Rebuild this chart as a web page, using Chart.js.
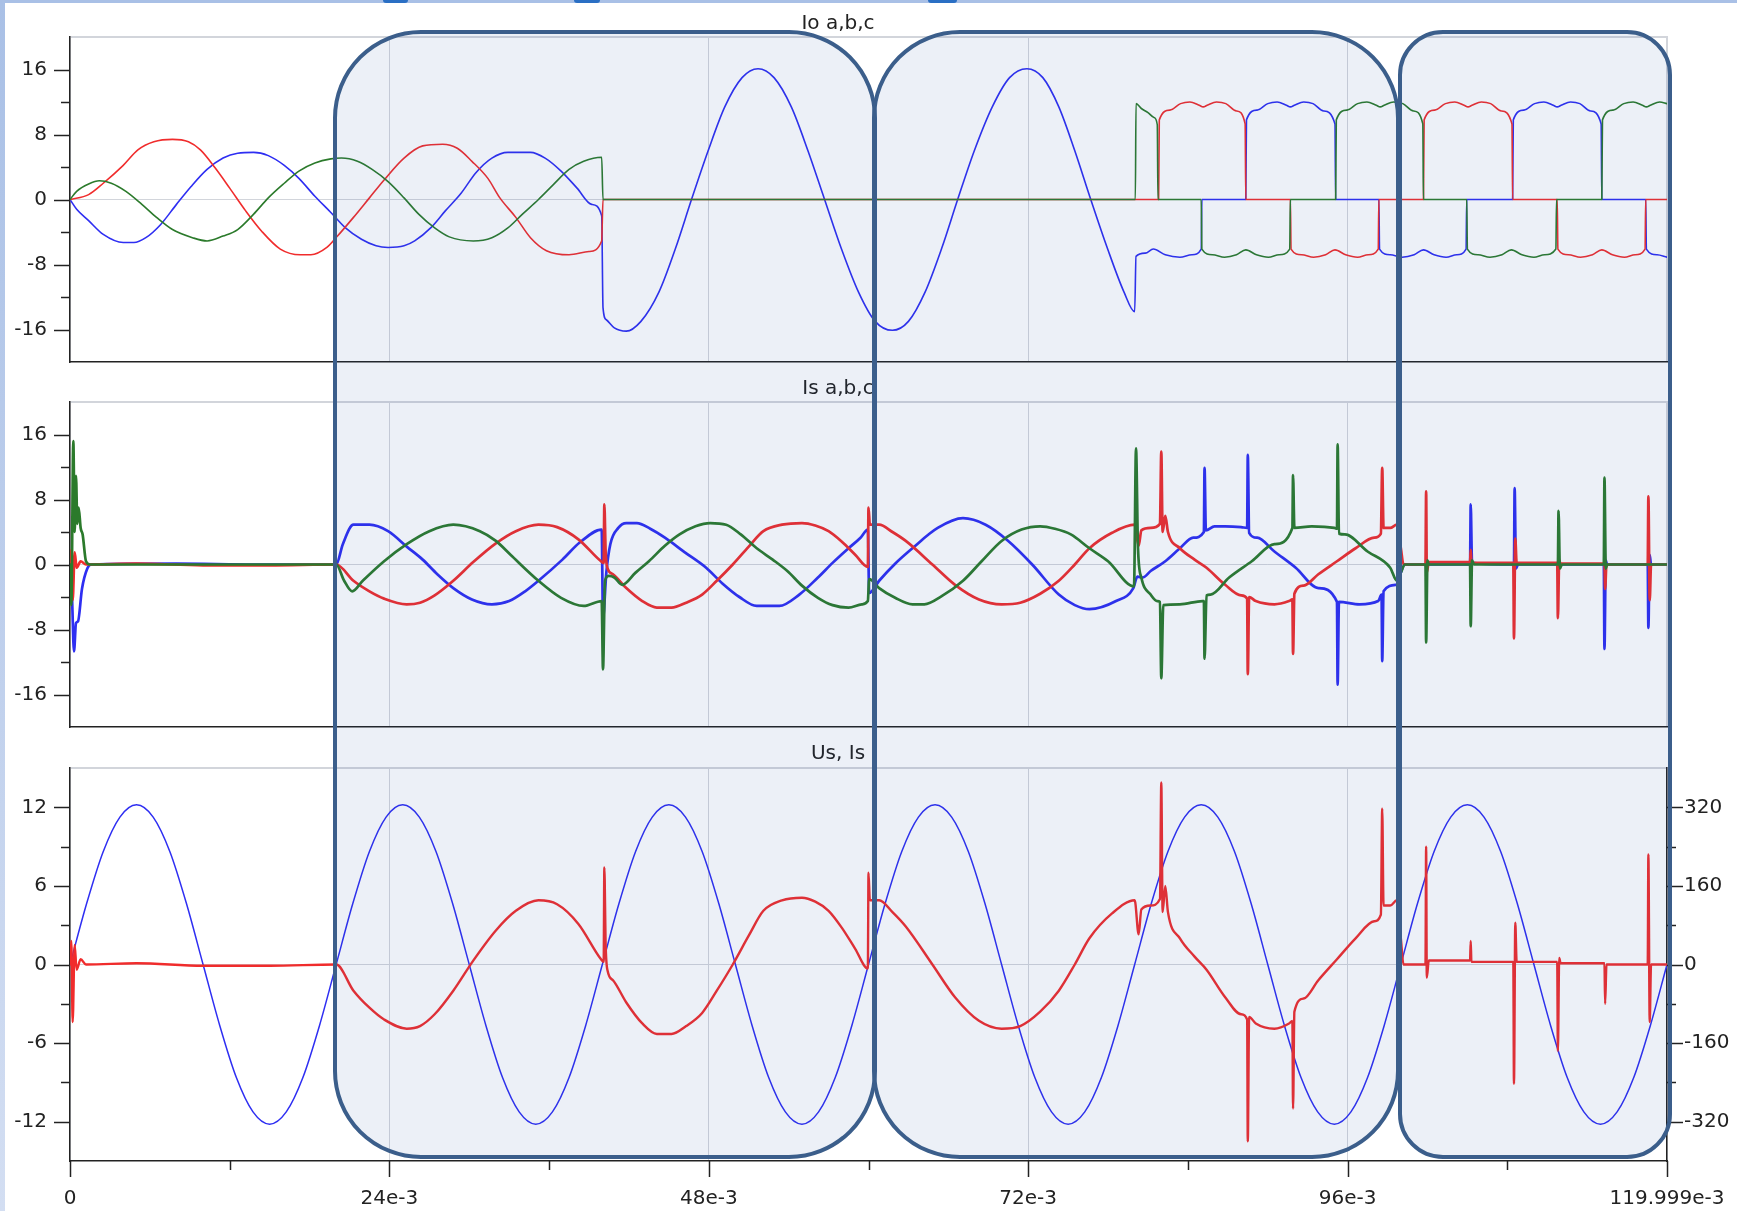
<!DOCTYPE html>
<html>
<head>
<meta charset="utf-8">
<title>Io / Is / Us</title>
<script src="https://cdn.jsdelivr.net/npm/chart.js@4.4.1/dist/chart.umd.min.js"></script>
<style>
  html, body { margin: 0; padding: 0; background: #fff; }
  #page { position: relative; width: 1737px; height: 1211px; overflow: hidden; background: #fff; }
  #page canvas { position: absolute; left: 0; }
  .hl { position: absolute; box-sizing: border-box; border: 4.5px solid #3b5e8b; background: rgba(40, 90, 170, 0.09); }
  .edge-top { position: absolute; left: 0; top: 0; width: 1737px; height: 3px; background: #a9c0e6; }
  .edge-left { position: absolute; left: 0; top: 0; width: 5px; height: 1211px; background: linear-gradient(#a9c0e6, #d3def2); }
  .tab { position: absolute; top: 0; height: 3px; background: #2a6fc4; border-radius: 0 0 3px 3px; }
</style>
</head>
<body>
<div id="page">
  <canvas id="io" width="1737" height="365" style="top:0"></canvas>
  <canvas id="is" width="1737" height="365" style="top:365px"></canvas>
  <canvas id="us" width="1737" height="481" style="top:730px"></canvas>

  <div class="hl" style="left:333px; top:30px; width:544px; height:1129px; border-radius:88px"></div>
  <div class="hl" style="left:872px; top:30px; width:528px; height:1129px; border-radius:88px"></div>
  <div class="hl" style="left:1398px; top:30px; width:274px; height:1129px; border-radius:45px"></div>

  <div class="edge-top"></div>
  <div class="tab" style="left:383px; width:25px"></div>
  <div class="tab" style="left:574px; width:26px"></div>
  <div class="tab" style="left:928px; width:29px"></div>
  <div class="edge-left"></div>
</div>

<script>
// ---- axes (time in ms, labelled as e-3 s) ----
const timeTicks = [0, 12, 24, 36, 48, 60, 72, 84, 96, 108, 119.999];
const timeLabels = ['0', '', '24e-3', '', '48e-3', '', '72e-3', '', '96e-3', '', '119.999e-3'];
const ampTicks = [-16, -12, -8, -4, 0, 4, 8, 12, 16];
const ampLabels = ['-16', '', '-8', '', '0', '', '8', '', '16'];
const isTicks = [-12, -9, -6, -3, 0, 3, 6, 9, 12];
const isLabels = ['-12', '', '-6', '', '0', '', '6', '', '12'];
const usTicks = [-320, -240, -160, -80, 0, 80, 160, 240, 320];
const usLabels = ['-320', '', '-160', '', '0', '', '160', '', '320'];

// ---- Io a,b,c : [t ms, A] ----
const ioA = [
  [0, 0], [1.4, 0.6], [2.5, 2.0], [4.0, 4.2], [5.1, 6.1], [6.3, 7.1], [7.7, 7.4], [8.9, 7.1], [9.8, 6.1], [10.9, 3.9],
  [12.0, 1.4], [13.2, -1.4], [14.4, -3.9], [15.8, -6.1], [17.3, -6.8], [18.1, -6.8], [19.3, -5.9], [20.1, -4.5], [21.3, -2.2],
  [22.5, 0.2], [23.6, 2.4], [25.1, 5.1], [26.5, 6.6], [28.0, 6.8], [29.1, 6.3], [30.2, 4.7], [31.4, 2.6], [32.3, 0.2],
  [33.5, -2.2], [34.6, -4.7], [35.8, -6.3], [37.5, -6.8], [39.0, -6.4], [39.95, -5.1], [40.05, 0],
  [81.8, 0], [81.85, 9.8], [82.65, 11.0], [83.45, 11.8], [84.15, 12.0], [84.85, 11.6], [85.15, 11.4], [85.45, 11.6],
  [86.15, 12.0], [86.85, 11.8], [87.65, 10.9], [88.3, 9.3], [88.35, 0],
  [91.7, 0], [91.75, -6.1], [92.55, -6.8], [93.45, -7.1], [94.35, -6.8], [95.05, -6.2], [95.85, -6.8], [96.75, -7.1],
  [97.55, -6.8], [98.3, -6.1], [98.35, 0],
  [101.7, 0], [101.75, 9.8], [102.55, 11.0], [103.35, 11.8], [104.05, 12.0], [104.75, 11.6], [105.05, 11.4], [105.35, 11.6],
  [106.05, 12.0], [106.75, 11.8], [107.55, 10.9], [108.35, 9.3], [108.4, 0],
  [111.75, 0], [111.8, -6.1], [112.6, -6.8], [113.5, -7.1], [114.4, -6.8], [115.1, -6.2], [115.9, -6.8], [116.8, -7.1],
  [117.6, -6.8], [118.35, -6.1], [118.4, 0], [120, 0]
];
const ioB = [
  [0, 0], [0.5, -1.2], [1.4, -2.6], [2.5, -4.3], [4.0, -5.3], [4.8, -5.3], [5.7, -4.7], [6.8, -3.1], [8.0, -0.6], [9.1, 1.6],
  [10.3, 3.7], [11.5, 5.1], [12.6, 5.7], [13.8, 5.8], [14.9, 5.4], [16.1, 4.2], [17.2, 2.6], [18.4, 0.4], [19.6, -1.6],
  [20.7, -3.5], [21.9, -4.9], [23.0, -5.7], [23.9, -5.9], [25.1, -5.7], [25.9, -5.1], [27.1, -3.5], [28.2, -1.4], [29.4, 0.8],
  [30.5, 3.3], [31.7, 5.1], [32.9, 5.8], [34.6, 5.8], [35.7, 5.1], [36.9, 3.5], [38.1, 1.4], [39.2, -0.6], [39.95, -2.0],
  [40.05, -13.3], [40.3, -14.8], [40.9, -15.8], [41.8, -16.2], [42.9, -15.0], [44.25, -11.4], [45.5, -6.0], [46.7, 0],
  [47.95, 6.0], [49.2, 11.4], [50.5, 15.0], [51.7, 16.1], [52.9, 15.0], [54.2, 11.4], [55.45, 6.0], [56.7, 0],
  [57.95, -6.0], [59.25, -11.4], [60.5, -15.0], [61.8, -16.1], [63.0, -15.0], [64.25, -11.4], [65.5, -6.0], [66.7, 0],
  [67.95, 6.0], [69.3, 11.4], [70.6, 15.0], [71.9, 16.1], [73.1, 15.0], [74.3, 11.4], [75.5, 6.0], [76.7, 0],
  [77.95, -6.0], [79.2, -11.4], [80.0, -13.8],
  [80.1, -7.0], [80.8, -6.6], [81.4, -6.1], [82.3, -6.8], [83.4, -7.1], [84.3, -6.8], [85.0, -6.1], [85.05, 0],
  [88.35, 0], [88.4, 9.8], [89.2, 11.0], [90.0, 11.8], [90.7, 12.0], [91.4, 11.6], [91.7, 11.4], [92.0, 11.6],
  [92.7, 12.0], [93.4, 11.8], [94.2, 10.9], [95.05, 9.3], [95.1, 0],
  [98.35, 0], [98.4, -6.1], [99.2, -6.8], [100.1, -7.1], [101.0, -6.8], [101.7, -6.2], [102.5, -6.8], [103.4, -7.1],
  [104.2, -6.8], [104.9, -6.1], [104.95, 0],
  [108.4, 0], [108.45, 9.8], [109.25, 11.0], [110.05, 11.8], [110.75, 12.0], [111.45, 11.6], [111.75, 11.4], [112.05, 11.6],
  [112.75, 12.0], [113.45, 11.8], [114.25, 10.9], [115.05, 9.3], [115.1, 0],
  [118.4, 0], [118.45, -6.1], [119.25, -6.8], [120, -7.1]
];
const ioC = [
  [0, 0], [0.5, 1.0], [1.4, 1.9], [2.2, 2.3], [3.1, 2.0], [4.2, 1.0], [5.4, -0.6], [6.5, -2.2], [7.7, -3.7], [9.2, -4.7],
  [10.3, -5.1], [11.5, -4.5], [12.6, -3.7], [13.8, -1.8], [14.9, 0.2], [16.1, 2.0], [17.2, 3.5], [18.4, 4.5], [19.6, 5.0],
  [20.4, 5.1], [21.6, 4.7], [22.7, 3.7], [23.9, 2.2], [25.1, 0.2], [26.2, -1.8], [27.4, -3.5], [28.5, -4.6], [30.3, -5.1],
  [31.7, -4.7], [32.9, -3.5], [34.0, -1.8], [35.2, 0], [36.3, 1.8], [37.5, 3.7], [38.6, 4.7], [39.95, 5.2], [40.05, 0],
  [80.05, 0], [80.1, 11.8], [80.5, 11.2], [81.0, 10.7], [81.45, 10.1], [81.7, 9.2], [81.75, 0],
  [85.0, 0], [85.05, -6.1], [85.85, -6.8], [86.75, -7.1], [87.65, -6.8], [88.35, -6.2], [89.15, -6.8], [90.05, -7.1],
  [90.85, -6.8], [91.65, -6.1], [91.7, 0],
  [95.1, 0], [95.15, 9.8], [95.95, 11.0], [96.75, 11.8], [97.45, 12.0], [98.15, 11.6], [98.45, 11.4], [98.75, 11.6],
  [99.45, 12.0], [100.15, 11.8], [100.95, 10.9], [101.65, 9.3], [101.7, 0],
  [104.95, 0], [105.0, -6.1], [105.8, -6.8], [106.7, -7.1], [107.6, -6.8], [108.3, -6.2], [109.1, -6.8], [110.0, -7.1],
  [110.8, -6.8], [111.65, -6.1], [111.7, 0],
  [115.1, 0], [115.15, 9.8], [115.95, 11.0], [116.75, 11.8], [117.45, 12.0], [118.15, 11.6], [118.45, 11.4], [118.75, 11.6],
  [119.45, 12.0], [120, 11.8]
];

// ---- Is a,b,c : [t ms, A] ----
const isA = [
  [0, 0], [0.1, 1.8], [0.2, -4.4], [0.35, 1.5], [0.5, -0.4], [0.8, 0.4], [1.2, 0], [5, 0.1], [10, -0.1], [15, -0.1], [20.0, 0],
  [21.3, -2.0], [22.5, -3.3], [23.6, -4.2], [25.3, -4.9], [26.3, -4.7], [27.4, -3.8], [28.8, -2.0], [30.3, 0.3], [32.0, 2.6],
  [33.5, 4.1], [35.2, 4.9], [36.6, 4.6], [38.2, 3.1], [39.9, 0.4],
  [40.1, 0.2], [40.15, 7.4], [40.25, 1.5], [40.4, -0.5], [40.8, -1.2], [41.8, -2.9], [43.0, -4.5], [44.1, -5.3], [45.2, -5.3],
  [46.3, -4.7], [47.5, -3.7], [48.6, -2.0], [49.8, 0], [51.0, 2.2], [52.1, 4.1], [53.5, 4.9], [55.0, 5.1], [56.0, 4.8],
  [57.0, 4.1], [58.0, 2.8], [59.0, 1.2], [59.95, -0.3],
  [60.0, 7.0], [60.1, 4.9], [60.8, 4.9], [61.8, 4.0], [62.8, 2.9], [64.8, 0], [66.5, -2.5], [68.3, -4.3], [70.0, -4.9],
  [71.4, -4.7], [72.9, -3.6], [74.3, -2.0], [75.5, 0], [76.6, 2.0], [78.3, 3.9], [80.0, 4.9],
  [80.3, 2.3], [80.5, 4.2], [81.2, 4.5], [81.9, 5.0], [82.0, 13.9], [82.1, 4.0], [82.3, 6.0], [82.5, 4.0], [83.4, 2.0],
  [84.5, 0.6], [85.4, -0.4], [86.8, -2.5], [88.0, -3.8], [88.45, -4.2], [88.5, -13.5], [88.6, -4.0], [89.1, -4.5],
  [90.5, -4.9], [91.6, -4.5], [91.85, -4.3], [91.9, -11.0], [92.0, -3.6], [92.7, -2.6], [93.8, -1.2], [95.2, 0.4],
  [96.6, 2.0], [98.0, 3.3], [98.5, 3.8], [98.6, 11.9], [98.7, 4.5], [99.2, 4.5], [99.7, 4.9], [100.0, 2.0], [100.2, 0],
  [101.85, 0], [101.9, 9.0], [101.95, -1.0], [102.1, 0.3], [105.2, 0.3], [105.25, 1.8], [105.3, 0.2], [108.45, 0.2],
  [108.5, -9.1], [108.6, 3.2], [108.7, 0.2], [111.75, 0.2], [111.8, -6.6], [111.9, 0.5], [112.0, 0.1], [115.3, 0.1],
  [115.35, -3.0], [115.45, 0], [118.55, 0], [118.6, 8.4], [118.7, -4.4], [118.8, 0], [120, 0]
];
const isB = [
  [0, 0], [0.15, -4.0], [0.3, -10.7], [0.45, -7.2], [0.6, -7.0], [0.9, -3.0], [1.3, -0.5], [1.6, 0], [8, 0.1], [14, 0], [20.0, 0],
  [20.5, 2.5], [21.3, 4.9], [22.5, 4.9], [23.9, 4.1], [25.3, 2.2], [26.5, 0.6], [27.6, -1.2], [28.8, -2.9], [30.2, -4.3],
  [31.7, -4.9], [33.0, -4.5], [34.2, -3.3], [35.2, -2.0], [37.0, 0.6], [38.3, 2.7], [39.95, 4.3],
  [40.05, -6.6], [40.3, -1.0], [40.6, 2.5], [41.2, 4.5], [41.8, 5.1], [42.6, 5.1], [43.6, 4.4], [44.7, 3.3], [46.2, 1.5],
  [47.8, -0.4], [49.0, -2.3], [50.3, -4.0], [51.6, -5.1], [53.3, -5.1], [54.8, -3.7], [56.2, -1.6], [57.3, 0.2], [58.5, 2.0],
  [59.4, 3.3], [59.95, 4.3],
  [60.05, -3.5], [60.8, -2.0], [62.0, 0.1], [63.3, 2.0], [65.2, 4.5], [67.1, 5.7], [68.8, 4.9], [70.5, 2.9], [72.3, 0],
  [74.3, -3.7], [75.5, -5.0], [76.6, -5.5], [78.6, -4.5], [79.9, -2.9],
  [80.2, -1.5], [80.6, -1.6], [81.2, -0.8], [82.3, 0.4], [83.4, 2.0], [84.4, 3.3], [85.2, 4.0], [85.25, 11.9], [85.35, 4.2],
  [86.0, 4.7], [86.8, 4.7], [88.0, 4.6], [88.45, 4.5], [88.5, 13.5], [88.6, 3.9], [89.2, 3.3], [90.5, 1.6], [92.1, -0.4],
  [93.8, -2.9], [95.2, -4.6], [95.25, -14.8], [95.35, -4.6], [96.9, -4.9], [98.3, -4.5], [98.55, -3.7], [98.6, -11.9],
  [98.7, -3.3], [99.7, -2.5], [100.0, -1.0], [100.3, 0],
  [105.2, 0], [105.25, 7.4], [105.35, 0.2], [108.5, 0], [108.55, 9.4], [108.65, -0.5], [108.8, 0], [115.25, 0],
  [115.3, -10.4], [115.4, 0.5], [115.5, 0], [118.55, 0], [118.6, -7.8], [118.7, 1.2], [118.8, 0], [120, 0]
];
const isC = [
  [0, 0], [0.1, -5.0], [0.25, 15.2], [0.35, 4.0], [0.45, 10.9], [0.55, 5.0], [0.65, 7.0], [0.8, 4.5], [0.95, 3.7], [1.2, 0.4],
  [1.5, 0], [20.0, 0],
  [20.6, -2.0], [21.2, -3.3], [22.0, -2.0], [23.6, 0.4], [25.3, 2.5], [27.0, 4.1], [28.8, 4.9], [30.8, 4.1], [32.0, 2.9],
  [33.1, 1.2], [35.2, -2.0], [36.9, -4.1], [38.6, -5.1], [39.95, -4.5],
  [40.05, -12.9], [40.2, -2.0], [40.5, -1.4], [40.9, -1.6], [41.5, -2.5], [42.5, -1.0], [43.5, 0.4], [44.7, 2.3], [45.8, 3.7],
  [47.0, 4.7], [48.1, 5.1], [49.3, 4.9], [50.4, 3.7], [51.6, 2.0], [52.8, 0.6], [53.9, -0.8], [55.0, -2.6], [56.2, -4.1],
  [57.3, -5.0], [58.5, -5.3], [59.5, -4.9], [59.95, -4.5],
  [60.05, -1.8], [60.8, -2.9], [62.0, -4.1], [63.3, -4.9], [64.2, -4.9], [65.5, -3.9], [67.1, -2.0], [68.5, 0.4], [70.0, 2.9],
  [71.5, 4.3], [72.9, 4.7], [74.0, 4.4], [75.2, 3.7], [76.6, 2.0], [78.0, 0.4], [79.95, -2.7],
  [80.1, 14.3], [80.25, 2.0], [80.5, -1.6], [81.2, -3.7], [81.7, -4.5], [81.9, -4.6], [82.0, -14.0], [82.15, -5.0],
  [83.4, -4.9], [85.1, -4.5], [85.2, -4.5], [85.25, -11.6], [85.4, -3.8], [85.7, -3.7], [87.1, -1.6], [88.8, 0.4],
  [90.5, 2.5], [91.85, 4.5], [91.9, 11.0], [92.0, 4.5], [93.3, 4.7], [95.0, 4.5], [95.2, 4.4], [95.25, 14.8], [95.35, 3.8],
  [95.8, 3.7], [97.5, 1.6], [99.2, -0.4], [99.7, -2.0], [100.0, -1.0], [100.3, 0],
  [101.85, 0], [101.9, -9.6], [102.0, 0.5], [102.1, 0], [105.2, 0], [105.25, -7.6], [105.35, 0.5], [105.5, 0],
  [111.8, 0], [111.85, 6.6], [111.95, -0.5], [112.1, 0], [115.25, 0], [115.3, 10.7], [115.4, -0.5], [115.5, 0], [120, 0]
];

// ---- Us : [t ms, V] ----
const usVolt = [
  [0, 0], [1.25, 124], [2.5, 230], [3.75, 300], [5, 325], [6.25, 300], [7.5, 230], [8.75, 124],
  [10, 0], [11.25, -124], [12.5, -230], [13.75, -300], [15, -325], [16.25, -300], [17.5, -230], [18.75, -124],
  [20, 0], [21.25, 124], [22.5, 230], [23.75, 300], [25, 325], [26.25, 300], [27.5, 230], [28.75, 124],
  [30, 0], [31.25, -124], [32.5, -230], [33.75, -300], [35, -325], [36.25, -300], [37.5, -230], [38.75, -124],
  [40, 0], [41.25, 124], [42.5, 230], [43.75, 300], [45, 325], [46.25, 300], [47.5, 230], [48.75, 124],
  [50, 0], [51.25, -124], [52.5, -230], [53.75, -300], [55, -325], [56.25, -300], [57.5, -230], [58.75, -124],
  [60, 0], [61.25, 124], [62.5, 230], [63.75, 300], [65, 325], [66.25, 300], [67.5, 230], [68.75, 124],
  [70, 0], [71.25, -124], [72.5, -230], [73.75, -300], [75, -325], [76.25, -300], [77.5, -230], [78.75, -124],
  [80, 0], [81.25, 124], [82.5, 230], [83.75, 300], [85, 325], [86.25, 300], [87.5, 230], [88.75, 124],
  [90, 0], [91.25, -124], [92.5, -230], [93.75, -300], [95, -325], [96.25, -300], [97.5, -230], [98.75, -124],
  [100, 0], [101.25, 124], [102.5, 230], [103.75, 300], [105, 325], [106.25, 300], [107.5, 230], [108.75, 124],
  [110, 0], [111.25, -124], [112.5, -230], [113.75, -300], [115, -325], [116.25, -300], [117.5, -230], [118.75, -124],
  [120, 0]
];

const RED = '#f02c2c';
const BLUE = '#2e2ef2';
const GREEN = '#2b7a2b';
const GRID = '#d2d5db';
const AXIS = '#222';
const FONT = 'DejaVu Sans';

Chart.defaults.font.family = FONT;
Chart.defaults.font.size = 20;
Chart.defaults.color = '#222';

// light frame on the top and right of each plot area
const framePlugin = {
  id: 'frame',
  beforeDraw(chart) {
    const { ctx, chartArea: a } = chart;
    ctx.save();
    ctx.strokeStyle = GRID;
    ctx.lineWidth = 2;
    ctx.beginPath();
    ctx.moveTo(a.left, a.top);
    ctx.lineTo(a.right, a.top);
    ctx.lineTo(a.right, a.bottom);
    ctx.stroke();
    ctx.restore();
  }
};

// panel caption, a bit left of the plot centre as in the original
function titlePlugin(text) {
  return {
    id: 'panelTitle',
    afterDraw(chart) {
      const ctx = chart.ctx;
      ctx.save();
      ctx.font = '20px "' + FONT + '"';
      ctx.fillStyle = '#222';
      ctx.textAlign = 'center';
      ctx.textBaseline = 'middle';
      ctx.fillText(text, 838, 24);
      ctx.restore();
    }
  };
}

// long ticks where there is a label, short ones between
function tickPlugin(spec) {
  return {
    id: 'tickMarks',
    afterDraw(chart) {
      const ctx = chart.ctx;
      ctx.save();
      ctx.strokeStyle = AXIS;
      ctx.lineWidth = 1.5;
      spec.forEach(ax => {
        const s = chart.scales[ax.id];
        ax.values.forEach((v, i) => {
          const len = ax.labels[i] ? 16 : 9;
          const p = Math.round(s.getPixelForValue(v)) + 0.5;
          ctx.beginPath();
          if (ax.id === 'x') {
            ctx.moveTo(p, s.top);
            ctx.lineTo(p, s.top + len);
          } else if (s.position === 'left') {
            ctx.moveTo(s.right, p);
            ctx.lineTo(s.right - len, p);
          } else {
            ctx.moveTo(s.left, p);
            ctx.lineTo(s.left + len, p);
          }
          ctx.stroke();
        });
      });
      ctx.restore();
    }
  };
}

function xAxis(showLabels) {
  return {
    type: 'linear',
    min: 0,
    max: 119.999,
    afterBuildTicks: s => { s.ticks = timeTicks.map(v => ({ value: v })); },
    ticks: { display: showLabels, autoSkip: false, maxRotation: 0, padding: 26, callback: (v, i) => timeLabels[i] },
    grid: { drawTicks: false, lineWidth: 1, color: c => (timeLabels[c.index] ? GRID : 'rgba(0,0,0,0)') },
    border: { color: AXIS, width: 1.5 },
    afterFit: s => {
      s.height = showLabels ? 50 : 0;
      s.paddingLeft = 0;
      s.paddingRight = 0;
    }
  };
}

function yAxis(pos, min, max, values, labels, width) {
  return {
    type: 'linear',
    position: pos,
    min: min,
    max: max,
    afterBuildTicks: s => { s.ticks = values.map(v => ({ value: v })); },
    ticks: { autoSkip: false, padding: pos === 'left' ? 23 : 17, callback: (v, i) => labels[i] },
    grid: pos === 'left'
      ? { drawTicks: false, lineWidth: 1, color: c => (c.tick && c.tick.value === 0 ? GRID : 'rgba(0,0,0,0)') }
      : { display: false, drawTicks: false },
    border: { display: true, color: AXIS, width: 1.5 },
    afterFit: s => {
      s.width = width;
      s.paddingTop = 0;
      s.paddingBottom = 0;
    }
  };
}

function series(data, color, width, axis) {
  return { data: data, borderColor: color, borderWidth: width, yAxisID: axis || 'y', fill: false };
}

function panel(id, title, datasets, scales, tickSpec, pad) {
  return new Chart(document.getElementById(id), {
    type: 'line',
    data: { datasets: datasets },
    options: {
      responsive: false,
      animation: false,
      devicePixelRatio: 1,
      events: [],
      normalized: true,
      layout: { padding: pad },
      plugins: { legend: { display: false }, tooltip: { enabled: false } },
      elements: {
        point: { radius: 0 },
        line: { cubicInterpolationMode: 'monotone', borderJoinStyle: 'round', borderCapStyle: 'round' }
      },
      scales: scales
    },
    plugins: [framePlugin, titlePlugin(title), tickPlugin(tickSpec)]
  });
}

panel('io', 'Io a,b,c',
  [series(ioC, GREEN, 1.6), series(ioA, RED, 1.6), series(ioB, BLUE, 1.6)],
  { x: xAxis(false), y: yAxis('left', -20, 20, ampTicks, ampLabels, 70) },
  [{ id: 'y', values: ampTicks, labels: ampLabels }],
  { left: 0, right: 70, top: 37, bottom: 3 });

panel('is', 'Is a,b,c',
  [series(isC, GREEN, 2.7), series(isA, RED, 2.7), series(isB, BLUE, 2.7)],
  { x: xAxis(false), y: yAxis('left', -20, 20, ampTicks, ampLabels, 70) },
  [{ id: 'y', values: ampTicks, labels: ampLabels }],
  { left: 0, right: 70, top: 37, bottom: 3 });

panel('us', 'Us, Is',
  [series(isA, RED, 2.4, 'y'), series(usVolt, BLUE, 1.5, 'y1')],
  {
    x: xAxis(true),
    y: yAxis('left', -15, 15, isTicks, isLabels, 70),
    y1: yAxis('right', -400, 400, usTicks, usLabels, 70)
  },
  [
    { id: 'x', values: timeTicks, labels: timeLabels },
    { id: 'y', values: isTicks, labels: isLabels },
    { id: 'y1', values: usTicks, labels: usLabels }
  ],
  { left: 0, right: 0, top: 38, bottom: 0 });
</script>
</body>
</html>
